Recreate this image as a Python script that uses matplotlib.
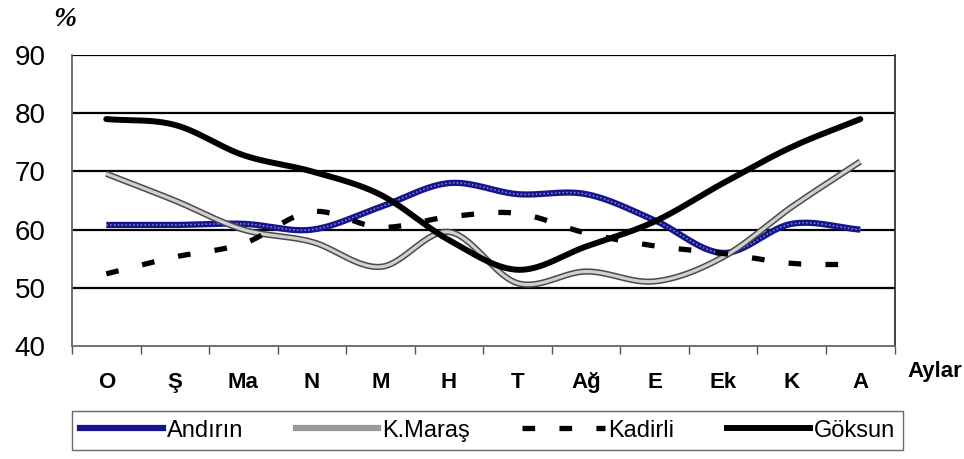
import numpy as np
import matplotlib
matplotlib.use('Agg')
import matplotlib.pyplot as plt
from matplotlib.lines import Line2D

plt.rcParams['font.family'] = ['Liberation Sans', 'DejaVu Sans']

months = ['O', 'Ş', 'Ma', 'N', 'M', 'H', 'T', 'Ağ', 'E', 'Ek', 'K', 'A']
andirin = [60.8, 60.8, 61, 60, 63.9, 68, 66.1, 66.1, 61.6, 56, 61, 60]
kmaras = [69.6, 65, 60, 57.9, 53.6, 59.6, 50.8, 52.8, 51.1, 55.3, 63.9, 71.7]
kadirli = [52.4, 55.3, 57.6, 63.1, 60.4, 62.2, 62.8, 59.4, 57.2, 55.9, 54.2, 54]
goksun = [79, 78, 72.8, 70, 66, 58.2, 53.1, 57.1, 61.4, 68, 74.2, 79]


def smooth(y, n=30):
    # catmull-rom curve through the points, like Excel's smoothed line
    y = np.asarray(y, dtype=float)
    x = np.arange(len(y), dtype=float)
    p = np.concatenate([[2 * y[0] - y[1]], y, [2 * y[-1] - y[-2]]])
    xs, ys = [], []
    for i in range(len(y) - 1):
        t = np.linspace(0, 1, n, endpoint=False)
        p0, p1, p2, p3 = p[i], p[i + 1], p[i + 2], p[i + 3]
        yy = 0.5 * ((2 * p1) + (-p0 + p2) * t + (2 * p0 - 5 * p1 + 4 * p2 - p3) * t ** 2
                    + (-p0 + 3 * p1 - 3 * p2 + p3) * t ** 3)
        xs.append(x[i] + t)
        ys.append(yy)
    xs.append([x[-1]])
    ys.append([y[-1]])
    return np.concatenate(xs), np.concatenate(ys)


fig = plt.figure(figsize=(9.64, 4.59), dpi=100)
ax = fig.add_axes([0.0747, 0.2462, 0.8533, 0.6338])

for v in [50, 60, 70, 80, 90]:
    ax.axhline(v, color='black', lw=1.6, zorder=1)

x, y = smooth(andirin)
ax.plot(x, y, color='#14148c', lw=4.5, solid_capstyle='butt', zorder=3)
ax.plot(x, y, color='#8a8ad0', lw=1.1, ls=(0, (1, 1.5)), zorder=3)
x, y = smooth(kmaras)
ax.plot(x, y, color='#4a4a4a', lw=4.5, solid_capstyle='butt', zorder=3)
ax.plot(x, y, color='#d0d0d0', lw=2.3, solid_capstyle='butt', zorder=3)
x, y = smooth(kadirli)
ax.plot(x, y, color='black', lw=3.8, ls=(0, (2.4, 4.6)), zorder=4)
x, y = smooth(goksun)
ax.plot(x, y, color='black', lw=4.3, solid_capstyle='round', zorder=5)

ax.set_xlim(-0.5, 11.5)
ax.set_ylim(40, 90)
ax.set_yticks([40, 50, 60, 70, 80, 90])
ax.tick_params(axis='y', length=0, labelsize=20, pad=19)
ax.set_xticks(np.arange(12))
ax.set_xticklabels(months, fontsize=16, fontweight='bold')
ax.tick_params(axis='x', length=0, pad=19)
ax.set_xticks(np.arange(-0.5, 12, 1), minor=True)
ax.tick_params(axis='x', which='minor', length=5.5, width=1, color='#555555')
for s in ['left', 'bottom']:
    ax.spines[s].set_color('#666666')
    ax.spines[s].set_linewidth(1.3)
ax.spines['right'].set_color('#333333')
ax.spines['right'].set_linewidth(1.3)
ax.spines['top'].set_visible(False)

fig.text(0.067, 0.958, '%', fontsize=20, style='italic', fontweight='bold',
         family='Liberation Serif', ha='center', va='center')
fig.text(0.998, 0.19, 'Aylar', fontsize=16, fontweight='bold', ha='right', va='center')

handles = [
    Line2D([], [], color='#14148c', lw=4.5),
    Line2D([], [], color='#9a9a9a', lw=4.5),
    Line2D([], [], color='black', lw=3.8, ls=(0, (2.4, 4.6))),
    Line2D([], [], color='black', lw=4.3),
]
fig.legend(handles, ['Andırın', 'K.Maraş', 'Kadirli', 'Göksun'],
           loc='lower left', bbox_to_anchor=(0.0747, 0.02, 0.862, 0.08), mode='expand',
           borderaxespad=0, ncol=4, fontsize=17, handlelength=3.5, handletextpad=0.15,
           frameon=True, fancybox=False, edgecolor='#444444', borderpad=0.35)

fig.savefig('out.png', dpi=100)
